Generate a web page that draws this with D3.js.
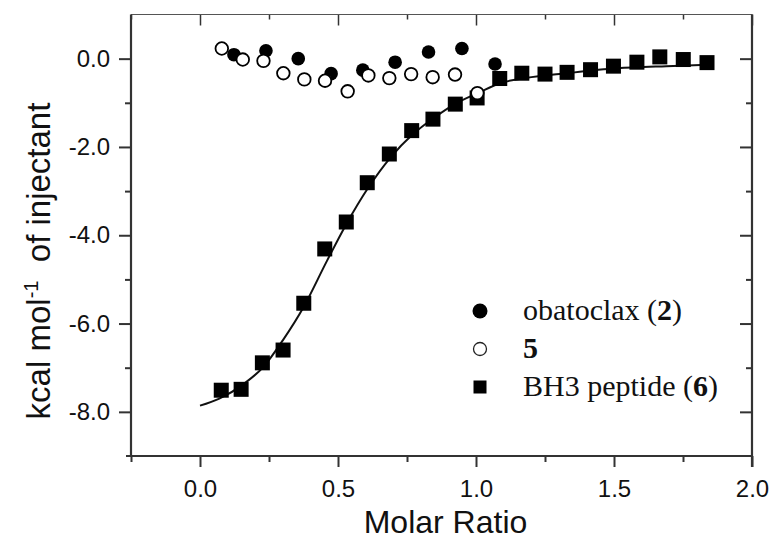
<!DOCTYPE html>
<html><head><meta charset="utf-8">
<script src="https://cdn.jsdelivr.net/npm/d3@7"></script>
<style>html,body{margin:0;padding:0;background:#fff;} svg{display:block;}</style>
</head><body>
<script>
// ---- data ----
const obatoclaxX = [0.123, 0.239, 0.356, 0.475, 0.590, 0.707, 0.828, 0.949, 1.069];
const obatoclaxY = [0.09, 0.18, 0.00, -0.34, -0.26, -0.08, 0.15, 0.23, -0.12];

const cmpd5X = [0.079, 0.155, 0.230, 0.302, 0.378, 0.453, 0.535, 0.610, 0.686, 0.765, 0.843, 0.924, 1.005];
const cmpd5Y = [0.23, -0.02, -0.05, -0.33, -0.47, -0.50, -0.74, -0.38, -0.44, -0.35, -0.42, -0.36, -0.78];

const bh3X = [0.077, 0.149, 0.226, 0.301, 0.376, 0.452, 0.530, 0.606, 0.686, 0.767, 0.844, 0.925, 1.004, 1.086, 1.166, 1.250, 1.330, 1.415, 1.498, 1.583, 1.666, 1.751, 1.837];
const bh3Y = [-7.51, -7.49, -6.89, -6.60, -5.54, -4.31, -3.70, -2.81, -2.16, -1.63, -1.37, -1.03, -0.89, -0.45, -0.33, -0.35, -0.31, -0.25, -0.17, -0.08, 0.04, -0.02, -0.09];

const fitX = [0.0, 0.07, 0.16, 0.23, 0.30, 0.375, 0.46, 0.53, 0.61, 0.69, 0.77, 0.85, 0.92, 1.01, 1.09, 1.18, 1.33, 1.51, 1.69, 1.84];
const fitY = [-7.86, -7.70, -7.36, -6.98, -6.38, -5.63, -4.58, -3.75, -2.92, -2.24, -1.72, -1.33, -1.04, -0.77, -0.55, -0.44, -0.33, -0.22, -0.17, -0.14];

const xMajorTicks = [0, 0.5, 1.0, 1.5, 2.0];
const xTickLabels = ["0.0", "0.5", "1.0", "1.5", "2.0"];
const xMinorTicks = [-0.25, 0.25, 0.75, 1.25, 1.75];
const yMajorTicks = [0, -2, -4, -6, -8];
const yTickLabels = ["0.0", "-2.0", "-4.0", "-6.0", "-8.0"];
const yMinorTicks = [-1, -3, -5, -7];

const xTitle = "Molar Ratio";
const legendNames = ["obatoclax", "", "BH3 peptide"];
const legendNumbers = ["2", "5", "6"];

// ---- drawing ----
const W = 773, H = 553;
const svg = d3.select("body").append("svg").attr("width", W).attr("height", H);

const x = d3.scaleLinear().domain([-0.25, 2.0]).range([131, 752]);
const y = d3.scaleLinear().domain([-9, 1]).range([456, 14.5]);

const axisColor = "#333";
const sans = "'Liberation Sans', Arial, sans-serif";
const serif = "'Liberation Serif', 'Times New Roman', serif";

function styleAxis(g, width) {
  g.select(".domain").remove();
  g.selectAll(".tick line").attr("stroke", axisColor).attr("stroke-width", width);
  g.selectAll(".tick text").attr("fill", "#111").style("font-family", sans).style("font-size", "24px");
}

// bottom axis
const gb = svg.append("g").attr("transform", `translate(0,${y(-9)})`);
gb.call(d3.axisBottom(x).tickValues(xMajorTicks).tickSize(11).tickPadding(13)
  .tickFormat((d, i) => xTickLabels[i]));
styleAxis(gb, 2);
const gbm = svg.append("g").attr("transform", `translate(0,${y(-9)})`);
gbm.call(d3.axisBottom(x).tickValues(xMinorTicks).tickSize(6).tickFormat(""));
styleAxis(gbm, 2);

// top axis (ticks inward)
const gt = svg.append("g").attr("transform", `translate(0,${y(1)})`);
gt.call(d3.axisTop(x).tickValues(xMajorTicks).tickSize(-11).tickFormat(""));
styleAxis(gt, 1.5);
const gtm = svg.append("g").attr("transform", `translate(0,${y(1)})`);
gtm.call(d3.axisTop(x).tickValues(xMinorTicks).tickSize(-5).tickFormat(""));
styleAxis(gtm, 1.5);

// left axis
const gl = svg.append("g").attr("transform", `translate(${x(-0.25)},0)`);
gl.call(d3.axisLeft(y).tickValues(yMajorTicks).tickSize(12).tickPadding(9)
  .tickFormat((d, i) => yTickLabels[i]));
styleAxis(gl, 2);
const glm = svg.append("g").attr("transform", `translate(${x(-0.25)},0)`);
glm.call(d3.axisLeft(y).tickValues(yMinorTicks).tickSize(6).tickFormat(""));
styleAxis(glm, 2);

// right axis (ticks inward)
const gr = svg.append("g").attr("transform", `translate(${x(2.0)},0)`);
gr.call(d3.axisRight(y).tickValues(yMajorTicks).tickSize(-12).tickFormat(""));
styleAxis(gr, 2);
const grm = svg.append("g").attr("transform", `translate(${x(2.0)},0)`);
grm.call(d3.axisRight(y).tickValues(yMinorTicks).tickSize(-6).tickFormat(""));
styleAxis(grm, 2);

// frame lines
svg.append("line").attr("x1", x(-0.25) - 5).attr("x2", x(2.0)).attr("y1", y(-9)).attr("y2", y(-9))
  .attr("stroke", axisColor).attr("stroke-width", 2.2);
svg.append("line").attr("x1", x(-0.25)).attr("x2", x(2.0)).attr("y1", y(1)).attr("y2", y(1))
  .attr("stroke", "#555").attr("stroke-width", 1.2);
svg.append("line").attr("x1", x(-0.25)).attr("x2", x(-0.25)).attr("y1", y(1)).attr("y2", y(-9))
  .attr("stroke", axisColor).attr("stroke-width", 2.2);
svg.append("line").attr("x1", x(2.0)).attr("x2", x(2.0)).attr("y1", y(1)).attr("y2", y(-9) + 11)
  .attr("stroke", axisColor).attr("stroke-width", 2.2);

// fit line
const fitData = fitX.map((v, i) => [v, fitY[i]]);
svg.append("path").datum(fitData)
  .attr("fill", "none").attr("stroke", "#111").attr("stroke-width", 2)
  .attr("d", d3.line().x(d => x(d[0])).y(d => y(d[1])).curve(d3.curveMonotoneX));

// filled circles (obatoclax)
svg.append("g").selectAll("circle").data(obatoclaxX.map((v, i) => [v, obatoclaxY[i]]))
  .join("circle").attr("cx", d => x(d[0])).attr("cy", d => y(d[1])).attr("r", 6.8).attr("fill", "#000");

// squares (BH3)
const sq = 15;
svg.append("g").selectAll("rect").data(bh3X.map((v, i) => [v, bh3Y[i]]))
  .join("rect").attr("x", d => x(d[0]) - sq / 2).attr("y", d => y(d[1]) - sq / 2)
  .attr("width", sq).attr("height", sq).attr("fill", "#000");

// open circles (5)
svg.append("g").selectAll("circle").data(cmpd5X.map((v, i) => [v, cmpd5Y[i]]))
  .join("circle").attr("cx", d => x(d[0])).attr("cy", d => y(d[1])).attr("r", 6.3)
  .attr("fill", "#fff").attr("stroke", "#000").attr("stroke-width", 1.8);

// axis titles
svg.append("text").attr("x", (x(-0.25) + x(2.0)) / 2 + 4).attr("y", 533)
  .attr("text-anchor", "middle").style("font-family", sans).style("font-size", "32px").attr("fill", "#111")
  .text(xTitle);

const yt = svg.append("text").attr("transform", "translate(50,261) rotate(-90)")
  .attr("text-anchor", "middle").style("font-family", sans).style("font-size", "33px").attr("fill", "#111");
yt.append("tspan").text("kcal mol");
yt.append("tspan").attr("dy", -12).style("font-size", "20px").text("-1");
yt.append("tspan").attr("dy", 12).text("\u00a0 of injectant");

// legend
const legY = [311, 349, 387];
const lg = svg.append("g");
lg.append("circle").attr("cx", 480).attr("cy", legY[0]).attr("r", 7.5).attr("fill", "#000");
lg.append("circle").attr("cx", 480).attr("cy", legY[1]).attr("r", 6.5).attr("fill", "#fff").attr("stroke", "#222").attr("stroke-width", 1.3);
lg.append("rect").attr("x", 480 - 6.5).attr("y", legY[2] - 6.5).attr("width", 13).attr("height", 13).attr("fill", "#000");
legendNames.forEach((name, i) => {
  const t = lg.append("text").attr("x", 523).attr("y", legY[i] + 9)
    .style("font-family", serif).style("font-size", "30px").attr("fill", "#111");
  if (name) {
    t.append("tspan").text(name + " (");
    t.append("tspan").style("font-weight", "bold").text(legendNumbers[i]);
    t.append("tspan").text(")");
  } else {
    t.append("tspan").style("font-weight", "bold").text(legendNumbers[i]);
  }
});
</script>
</body></html>
